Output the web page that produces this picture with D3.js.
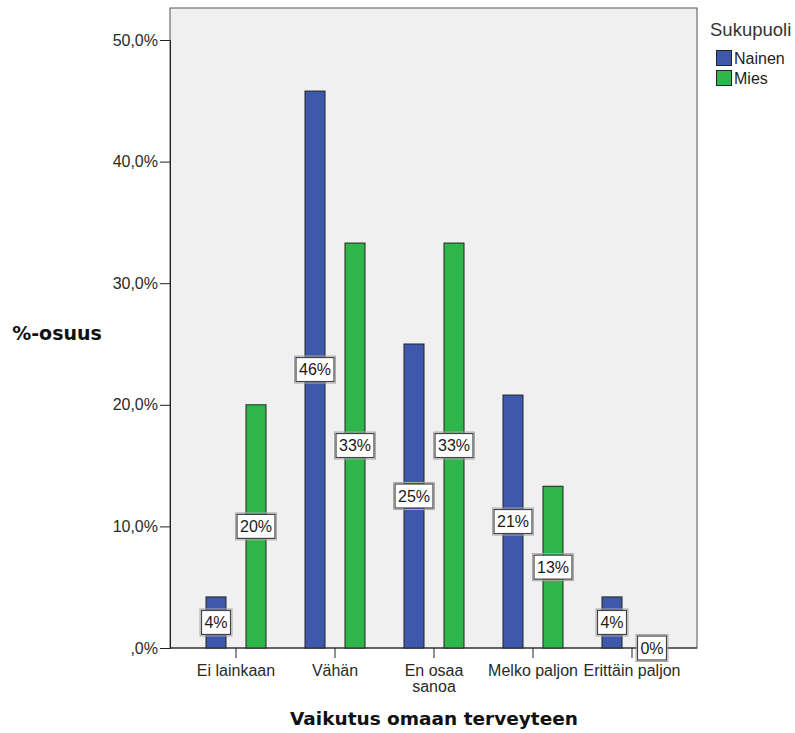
<!DOCTYPE html>
<html>
<head>
<meta charset="utf-8">
<script src="https://cdn.jsdelivr.net/npm/d3@7"></script>
<style>
  body { margin: 0; background: #fff; }
  svg { display: block; font-family: Arial, "Liberation Sans", sans-serif; }
</style>
</head>
<body>
<svg id="chart" width="795" height="733"></svg>
<script>
// Response categories (x axis) and the two series by gender
const categories = ["Ei lainkaan", "Vähän", "En osaa sanoa", "Melko paljon", "Erittäin paljon"];
const categoryLines = [["Ei lainkaan"], ["Vähän"], ["En osaa", "sanoa"], ["Melko paljon"], ["Erittäin paljon"]];
const seriesNames = ["Nainen", "Mies"];
const nainen = [4.2, 45.8, 25.0, 20.8, 4.2];
const mies = [20.0, 33.3, 33.3, 13.3, 0.0];
const yTicks = [0, 10, 20, 30, 40, 50];
const colors = ["#3e58ac", "#2fb64a"];

const svg = d3.select("#chart");
const plot = { left: 170, top: 8, right: 697, bottom: 648 };

// frame background
svg.append("rect")
  .attr("x", plot.left).attr("y", plot.top)
  .attr("width", plot.right - plot.left).attr("height", plot.bottom - plot.top)
  .attr("fill", "#f0f0f0").attr("stroke", "#555").attr("stroke-width", 1);

const y = d3.scaleLinear().domain([0, 50]).range([plot.bottom, 40]);
const x = d3.scaleBand().domain(categories)
  .range([plot.left + 16.5, plot.right - 15.5]).paddingInner(0).paddingOuter(0);
// two bars per category, 20px wide, centred 20px either side of the tick
const xs = d3.scaleBand().domain(seriesNames).range([-30, 30]).paddingInner(0.5).paddingOuter(0);

// y axis
const yAxis = d3.axisLeft(y).tickValues(yTicks).tickSize(10).tickPadding(2)
  .tickFormat(d => d === 0 ? ",0%" : d.toFixed(1).replace(".", ",") + "%");
const gy = svg.append("g").attr("transform", `translate(${plot.left},0)`).call(yAxis);
gy.select(".domain").attr("stroke", "#222");
gy.selectAll(".tick line").attr("stroke", "#222");
gy.selectAll(".tick text").attr("font-size", 16).attr("fill", "#2a2a2a");

// x axis
const xAxis = d3.axisBottom(x).tickSize(10).tickFormat("");
const gx = svg.append("g").attr("transform", `translate(0,${plot.bottom})`).call(xAxis);
gx.select(".domain").attr("stroke", "#222").attr("d", `M${plot.left},0H${plot.right}`);
gx.selectAll(".tick line").attr("stroke", "#222");
gx.selectAll(".tick").each(function(d, i) {
  const t = d3.select(this).append("text")
    .attr("text-anchor", "middle").attr("font-size", 16).attr("fill", "#2a2a2a");
  categoryLines[i].forEach((line, k) => {
    t.append("tspan").attr("x", 0).attr("y", 28 + k * 16).text(line);
  });
});

// bars
const series = [nainen, mies];
series.forEach((vals, s) => {
  svg.append("g").selectAll("rect")
    .data(vals)
    .join("rect")
    .attr("x", (d, i) => x(categories[i]) + x.bandwidth() / 2 + xs(seriesNames[s]))
    .attr("y", d => y(d))
    .attr("width", xs.bandwidth())
    .attr("height", d => plot.bottom - y(d))
    .attr("fill", colors[s])
    .attr("stroke", "#222").attr("stroke-width", 1);
});

// value labels in boxes at bar mid-height
series.forEach((vals, s) => {
  const g = svg.append("g").selectAll("g")
    .data(vals)
    .join("g")
    .attr("transform", (d, i) => {
      const cx = x(categories[i]) + x.bandwidth() / 2 + xs(seriesNames[s]) + xs.bandwidth() / 2;
      const cy = (y(d) + plot.bottom) / 2;
      return `translate(${cx},${cy})`;
    });
  g.each(function(d) {
    const label = Math.round(d) + "%";
    const w = label.length > 2 ? 38 : 29;
    const sel = d3.select(this);
    sel.append("rect").attr("x", -w / 2 - 1.5).attr("y", -13.5).attr("width", w + 3).attr("height", 27)
      .attr("fill", "none").attr("stroke", "#aaa").attr("stroke-width", 1);
    sel.append("rect").attr("x", -w / 2).attr("y", -12).attr("width", w).attr("height", 24)
      .attr("fill", "#fff").attr("stroke", "#444").attr("stroke-width", 1.2);
    sel.append("text").attr("text-anchor", "middle").attr("dy", "0.36em")
      .attr("font-size", 16).attr("fill", "#1a1a1a").text(label);
  });
});

// axis titles
svg.append("text").attr("x", 57).attr("y", 333).attr("text-anchor", "middle")
  .attr("dy", "0.35em").attr("font-size", 19).attr("font-weight", "bold").attr("fill", "#111")
  .attr("font-family", "Verdana, 'DejaVu Sans', sans-serif")
  .text("%-osuus");
svg.append("text").attr("x", 434).attr("y", 719).attr("text-anchor", "middle")
  .attr("dy", "0.35em").attr("font-size", 18.5).attr("font-weight", "bold").attr("fill", "#111")
  .attr("font-family", "Verdana, 'DejaVu Sans', sans-serif")
  .text("Vaikutus omaan terveyteen");

// legend
const legend = svg.append("g").attr("transform", "translate(710,0)");
legend.append("text").attr("x", 0).attr("y", 30).attr("dy", "0.35em")
  .attr("font-size", 18.5).attr("fill", "#333").text("Sukupuoli");
seriesNames.forEach((name, i) => {
  const ly = 50 + i * 20;
  legend.append("rect").attr("x", 6.5).attr("y", ly + 0.5).attr("width", 15).attr("height", 15)
    .attr("fill", colors[i]).attr("stroke", "#222");
  legend.append("text").attr("x", 24).attr("y", ly + 8).attr("dy", "0.36em")
    .attr("font-size", 16).attr("fill", "#222").text(name);
});
</script>
</body>
</html>
